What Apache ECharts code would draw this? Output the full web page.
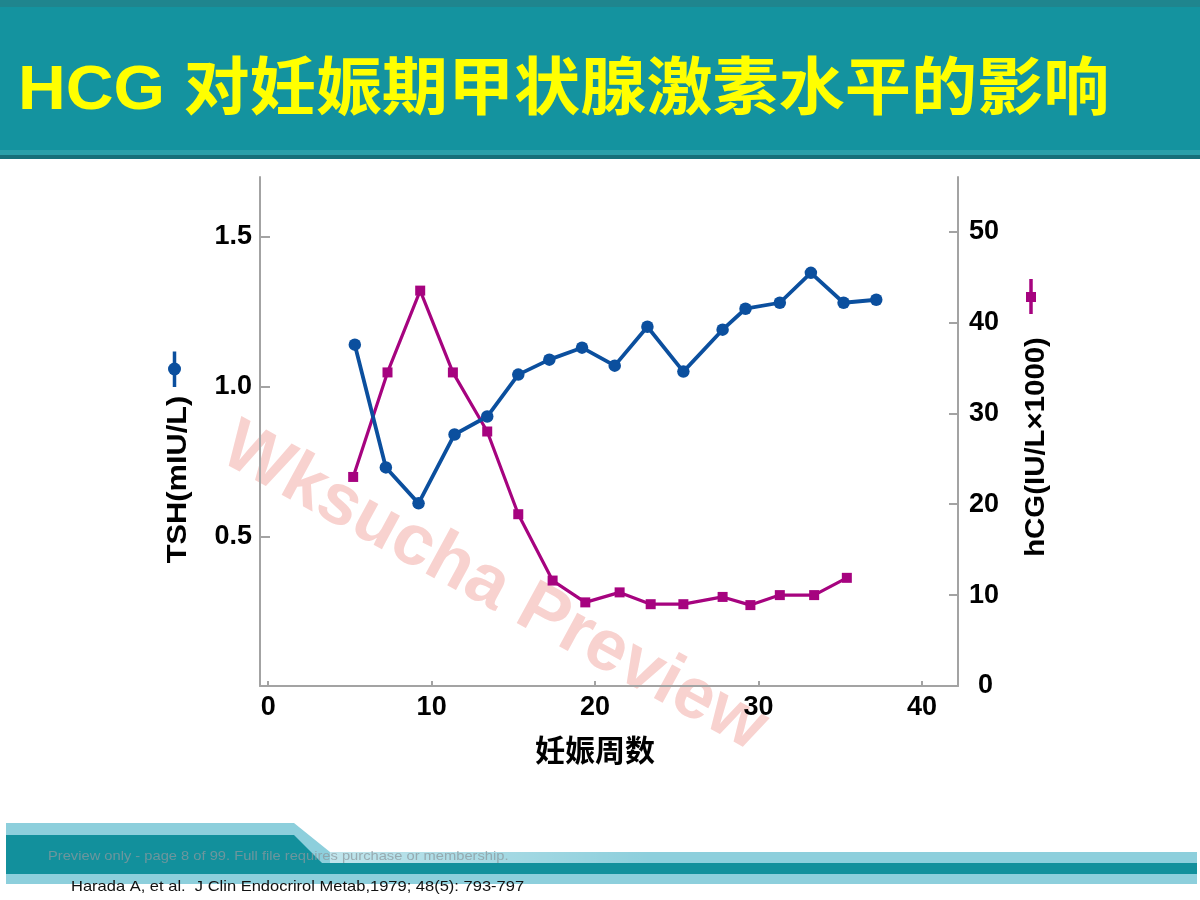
<!DOCTYPE html>
<html>
<head>
<meta charset="utf-8">
<title>HCG 对妊娠期甲状腺激素水平的影响</title>
<script src="https://cdn.jsdelivr.net/npm/echarts@6/dist/echarts.min.js"></script>
<style>
html, body { margin: 0; padding: 0; background: #fff; }
#main { width: 1200px; height: 900px; }
</style>
</head>
<body>
<div id="main"></div>
<script>
// TSH (mIU/L) by week of pregnancy
var tshWeeks = [5.3, 7.2, 9.2, 11.4, 13.4, 15.3, 17.2, 19.2, 21.2, 23.2, 25.4, 27.8, 29.2, 31.3, 33.2, 35.2, 37.2];
var tshValues = [1.14, 0.73, 0.61, 0.84, 0.90, 1.04, 1.09, 1.13, 1.07, 1.20, 1.05, 1.19, 1.26, 1.28, 1.38, 1.28, 1.29];

// hCG (IU/L x1000) by week of pregnancy
var hcgWeeks = [5.2, 7.3, 9.3, 11.3, 13.4, 15.3, 17.4, 19.4, 21.5, 23.4, 25.4, 27.8, 29.5, 31.3, 33.4, 35.4];
var hcgValues = [23.0, 34.5, 43.5, 34.5, 28.0, 18.9, 11.6, 9.2, 10.3, 9.0, 9.0, 9.8, 8.9, 10.0, 10.0, 11.9];

// tick labels
var weekTicks = [0, 10, 20, 30, 40];
var tshTicks = [0.5, 1.0, 1.5];
var hcgTicks = [0, 10, 20, 30, 40, 50];

var blue = '#0b4f9e';
var magenta = '#a6037f';
var axisGray = '#a3a3a3';
var latin = '"Liberation Sans", Arial, sans-serif';
var cjk = '"Liberation Sans", "Noto Sans CJK SC", sans-serif';

function pairs(xs, ys) {
    var out = [];
    for (var i = 0; i < xs.length; i++) {
        out.push([xs[i], ys[i]]);
    }
    return out;
}

var chart = echarts.init(document.getElementById('main'));

var option = {
    animation: false,
    backgroundColor: '#fff',
    grid: { left: 260, right: 242, top: 177, bottom: 214 },
    xAxis: {
        type: 'value',
        min: -0.5,
        max: 42.2,
        splitLine: { show: false },
        axisLine: { onZero: false, lineStyle: { color: axisGray, width: 2 } },
        axisTick: { inside: true, length: 5, lineStyle: { color: axisGray, width: 2 }, customValues: weekTicks },
        axisLabel: {
            customValues: weekTicks,
            margin: 8,
            color: '#000', fontSize: 27, fontWeight: 'bold', fontFamily: latin
        }
    },
    yAxis: [{
        type: 'value',
        position: 'left',
        min: 0,
        max: 1.7,
        splitLine: { show: false },
        axisLine: { show: true, onZero: false, lineStyle: { color: axisGray, width: 2 } },
        axisTick: { show: true, inside: true, length: 10, lineStyle: { color: axisGray, width: 2 }, customValues: tshTicks },
        axisLabel: {
            customValues: tshTicks,
            margin: 8,
            formatter: function (v) { return v.toFixed(1); },
            color: '#000', fontSize: 27, fontWeight: 'bold', fontFamily: latin
        }
    }, {
        type: 'value',
        position: 'right',
        min: 0,
        max: 56,
        splitLine: { show: false },
        axisLine: { show: true, onZero: false, lineStyle: { color: axisGray, width: 2 } },
        axisTick: { show: true, inside: true, length: 9, lineStyle: { color: axisGray, width: 2 }, customValues: hcgTicks },
        axisLabel: {
            customValues: hcgTicks,
            margin: 11,
            formatter: function (v) { return v === 0 ? '{z|0}' : String(v); },
            rich: { z: { padding: [0, 0, 0, 9], color: '#000', fontSize: 27, fontWeight: 'bold', fontFamily: latin } },
            color: '#000', fontSize: 27, fontWeight: 'bold', fontFamily: latin
        }
    }],
    series: [{
        name: 'TSH',
        type: 'line',
        yAxisIndex: 0,
        data: pairs(tshWeeks, tshValues),
        symbol: 'circle',
        symbolSize: 12.5,
        lineStyle: { color: blue, width: 3.8 },
        itemStyle: { color: blue },
        z: 3
    }, {
        name: 'hCG',
        type: 'line',
        yAxisIndex: 1,
        data: pairs(hcgWeeks, hcgValues),
        symbol: 'rect',
        symbolSize: 10,
        lineStyle: { color: magenta, width: 3.2 },
        itemStyle: { color: magenta },
        z: 2
    }],
    graphic: [
        // header band
        { type: 'rect', z: 0, shape: { x: 0, y: 0, width: 1200, height: 159 }, style: { fill: '#14939f' } },
        { type: 'rect', z: 0, shape: { x: 0, y: 0, width: 1200, height: 7 }, style: { fill: '#1f858e' } },
        { type: 'rect', z: 0, shape: { x: 0, y: 150, width: 1200, height: 5 }, style: { fill: '#2a9fa9' } },
        { type: 'rect', z: 0, shape: { x: 0, y: 155, width: 1200, height: 4 }, style: { fill: '#176f79' } },
        {
            type: 'text', z: 1, x: 18, y: 92, scaleX: 1.05,
            style: {
                text: 'HCG 对妊娠期甲状腺激素水平的影响',
                fill: '#ffff00', fontSize: 63, fontWeight: 'bold', fontFamily: cjk,
                verticalAlign: 'middle'
            }
        },
        // watermark
        {
            type: 'text', z: -1, x: 494, y: 588, rotation: -0.5,
            style: {
                text: 'Wksucha Preview',
                fill: '#f8d2cf', fontSize: 72, fontWeight: 'bold', fontFamily: latin,
                align: 'center', verticalAlign: 'middle'
            }
        },
        // axis titles with series keys
        { type: 'line', z: 1, shape: { x1: 174.5, y1: 351.5, x2: 174.5, y2: 387 }, style: { stroke: blue, lineWidth: 3.5 } },
        { type: 'circle', z: 1, shape: { cx: 174.5, cy: 369, r: 6.5 }, style: { fill: blue } },
        {
            type: 'text', z: 1, x: 178.5, y: 479.5, rotation: Math.PI / 2, scaleX: 1.1,
            style: {
                text: 'TSH(mIU/L)', fill: '#000', fontSize: 28, fontWeight: 'bold', fontFamily: latin,
                align: 'center', verticalAlign: 'middle'
            }
        },
        { type: 'line', z: 1, shape: { x1: 1031, y1: 279, x2: 1031, y2: 314 }, style: { stroke: magenta, lineWidth: 3.5 } },
        { type: 'rect', z: 1, shape: { x: 1026, y: 292, width: 10, height: 10 }, style: { fill: magenta } },
        {
            type: 'text', z: 1, x: 1036, y: 447, rotation: Math.PI / 2, scaleX: 1.05,
            style: {
                text: 'hCG(IU/L×1000)', fill: '#000', fontSize: 28, fontWeight: 'bold', fontFamily: latin,
                align: 'center', verticalAlign: 'middle'
            }
        },
        {
            type: 'text', z: 1, x: 595, y: 750,
            style: {
                text: '妊娠周数', fill: '#000', fontSize: 30, fontWeight: 'bold', fontFamily: '"Noto Sans CJK SC", sans-serif',
                align: 'center', verticalAlign: 'middle'
            }
        },
        // footer
        {
            type: 'polygon', z: 0,
            shape: { points: [[6, 823], [294, 823], [330, 852], [1197, 852], [1197, 884], [6, 884]] },
            style: { fill: '#8dcfdc' }
        },
        {
            type: 'rect', z: 0,
            shape: { x: 330, y: 852, width: 320, height: 11 },
            style: {
                fill: new echarts.graphic.LinearGradient(0, 0, 1, 0, [
                    { offset: 0, color: 'rgba(255,255,255,0.45)' },
                    { offset: 1, color: 'rgba(255,255,255,0)' }
                ])
            }
        },
        {
            type: 'polygon', z: 0,
            shape: { points: [[6, 835], [294, 835], [322, 863], [1197, 863], [1197, 874], [6, 874]] },
            style: { fill: '#12909c' }
        },
        {
            type: 'text', z: 1, x: 48, y: 856, scaleX: 1.13,
            style: {
                text: 'Preview only - page 8 of 99. Full file requires purchase or membership.',
                fill: 'rgba(140,152,158,0.75)', fontSize: 13, fontFamily: latin, verticalAlign: 'middle'
            }
        },
        {
            type: 'text', z: 1, x: 71, y: 887, scaleX: 1.1,
            style: {
                text: 'Harada A, et al.  J Clin Endocrirol Metab,1979; 48(5): 793-797',
                fill: '#111', fontSize: 15, fontFamily: latin, verticalAlign: 'middle'
            }
        }
    ]
};

chart.setOption(option);
</script>
</body>
</html>
